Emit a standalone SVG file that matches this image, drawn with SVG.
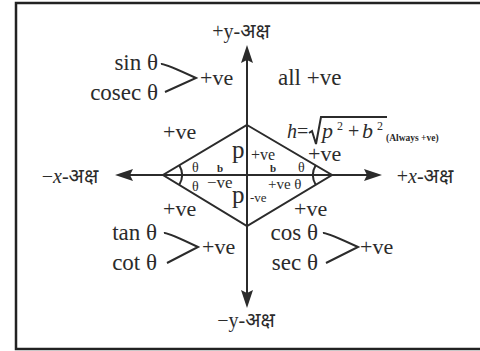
<svg xmlns="http://www.w3.org/2000/svg" width="480" height="351" viewBox="0 0 480 351">
<defs>
<style>
.t{font-family:"Liberation Serif","Times New Roman",serif;fill:#2b2b2b}
.ax{font-family:"Liberation Serif","Noto Sans","DejaVu Sans",serif;fill:#2b2b2b;font-size:20px}
.ln{stroke:#2b2b2b;stroke-width:2;fill:none}
.ah{fill:#2b2b2b}
</style>
</defs>
<rect x="16" y="3" width="480" height="346" fill="#fff" stroke="#222" stroke-width="2.5"/>
<g id="connectors">
<line class="ln" x1="247" y1="58" x2="247" y2="295"/>
<line class="ln" x1="128" y1="175" x2="369" y2="175"/>
<polygon class="ah" points="247,45 253,63 247,60 241,63"/>
<polygon class="ah" points="247,308 253,290 247,293 241,290"/>
<polygon class="ah" points="115,175 133,169 130,175 133,181"/>
<polygon class="ah" points="382,175 364,169 367,175 364,181"/>
<polygon class="ln" points="247,125 332,175 247,226 163,175"/>
<path class="ln" d="M179.3,165.3 A19,19 0 0 1 179.3,184.7" stroke-width="1.6"/>
<path class="ln" d="M315.7,165.3 A19,19 0 0 0 315.7,184.7" stroke-width="1.6"/>
<path class="ln" d="M161,64 Q164,63 196,78 L165,92" stroke-width="1.8"/>
<path class="ln" d="M164,233 Q167,232 198,247 L167,263" stroke-width="1.8"/>
<path class="ln" d="M323,233 Q326,232 358,247 L326,263" stroke-width="1.8"/>
</g>
<g id="axis-labels">
<text class="ax" x="241" y="38" text-anchor="middle">+y-अक्ष</text>
<text class="ax" x="246" y="327" text-anchor="middle">−y-अक्ष</text>
<text class="ax" x="70" y="183" text-anchor="middle">−<tspan font-style="italic">x</tspan>-अक्ष</text>
<text class="ax" x="425" y="183" text-anchor="middle">+<tspan font-style="italic">x</tspan>-अक्ष</text>
</g>
<g id="quadrant-2">
<text class="t" x="158" y="70" font-size="23" text-anchor="end">sin θ</text>
<text class="t" x="158" y="100" font-size="23" text-anchor="end">cosec θ</text>
<text class="t" x="200" y="85" font-size="22">+ve</text>
</g>
<g id="quadrant-1">
<text class="t" x="278" y="85" font-size="23">all +ve</text>
</g>
<g id="quadrant-3">
<text class="t" x="157" y="240" font-size="23" text-anchor="end">tan θ</text>
<text class="t" x="157" y="270" font-size="23" text-anchor="end">cot θ</text>
<text class="t" x="202" y="254" font-size="22">+ve</text>
</g>
<g id="quadrant-4">
<text class="t" x="318" y="240" font-size="23" text-anchor="end">cos θ</text>
<text class="t" x="318" y="270" font-size="23" text-anchor="end">sec θ</text>
<text class="t" x="360" y="254" font-size="22">+ve</text>
</g>
<g id="triangle-labels">
<text class="t" x="163" y="139" font-size="22">+ve</text>
<text class="t" x="308" y="161" font-size="22">+ve</text>
<text class="t" x="163" y="216" font-size="22">+ve</text>
<text class="t" x="294" y="216" font-size="22">+ve</text>
<text class="t" x="232" y="158" font-size="25">p</text>
<text class="t" x="251" y="160" font-size="16">+ve</text>
<text class="t" x="232" y="203" font-size="25">p</text>
<text class="t" x="250" y="202" font-size="13">-ve</text>
<text class="t" x="192" y="172" font-size="14">θ</text>
<text class="t" x="192" y="191" font-size="14">θ</text>
<text class="t" x="298" y="172" font-size="14">θ</text>
<text class="t" x="217" y="172" font-size="11" font-weight="bold">b</text>
<text class="t" x="270" y="172" font-size="11" font-weight="bold">b</text>
<text class="t" x="207" y="188" font-size="17">−ve</text>
<text class="t" x="268" y="189" font-size="15">+ve θ</text>
</g>
<g id="hypotenuse-label">
<text class="t" x="287" y="138" font-size="20"><tspan font-style="italic">h</tspan>=</text>
<path class="ln" d="M309,133 L312,131 L316,144 L321,117 L387,117" stroke-width="1.3"/>
<text class="t" x="322" y="138" font-size="22" font-style="italic">p</text>
<text class="t" x="337" y="130" font-size="12">2</text>
<text class="t" x="348" y="138" font-size="20">+</text>
<text class="t" x="362" y="138" font-size="22" font-style="italic">b</text>
<text class="t" x="377" y="130" font-size="12">2</text>
<text class="t" x="386" y="141" font-size="9.5" font-weight="bold">(Always +ve)</text>
</g>
</svg>
